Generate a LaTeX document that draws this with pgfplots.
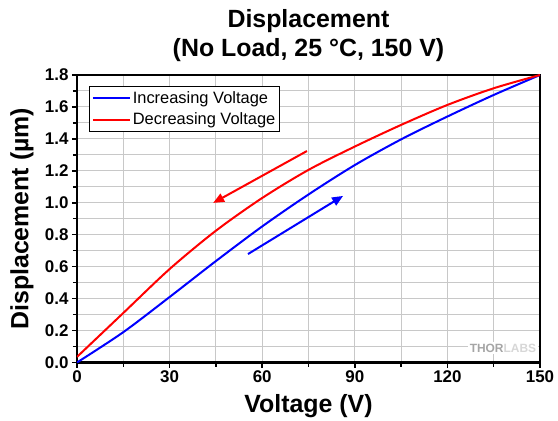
\documentclass[border=0pt]{standalone}
\usepackage{fontspec}
\setmainfont{Liberation Sans}
\usepackage{pgfplots}
\pgfplotsset{compat=1.18}
\usetikzlibrary{arrows.meta}
\definecolor{gridgray}{RGB}{200,200,200}
\definecolor{thorgray}{RGB}{165,165,165}
\definecolor{thorlight}{RGB}{215,215,215}

\begin{document}
\begin{tikzpicture}
\useasboundingbox (-77bp,-58.5bp) rectangle (481bp,362.5bp);
\begin{axis}[
  name=ax, at={(0,0)}, anchor=south west,
  scale only axis, width=463bp, height=287.5bp,
  xmin=0, xmax=150, ymin=0, ymax=1.8,
  xtick={0,30,60,90,120,150}, minor xtick={15,45,75,105,135},
  ytick={0,0.2,0.4,0.6,0.8,1.0,1.2,1.4,1.6,1.8},
  minor ytick={0.1,0.3,0.5,0.7,0.9,1.1,1.3,1.5,1.7},
  grid=both, grid style={gridgray, line width=1bp},
  minor grid style={gridgray, line width=1bp},
  axis line style={line width=2.8bp},
  tick style={black, line width=1.5bp},
  major tick length=5bp, minor tick length=4bp,
  tick align=outside, tick pos=left,
  tick label style={font=\bfseries\fontsize{17}{18}\selectfont},
  /pgf/number format/assume math mode=true,
  yticklabel style={/pgf/number format/.cd, fixed, fixed zerofill, precision=1},
  label style={font=\bfseries\fontsize{25}{25}\selectfont},
  xlabel={Voltage (V)},
  xlabel style={at={(axis description cs:0.5,-0.1746)}, anchor=base},
  ylabel={Displacement (µm)},
  ylabel style={at={(axis description cs:-0.119,0.5)}, anchor=center},
  legend style={at={(rel axis cs:0.0266,0.963)}, anchor=north west,
    draw=black, line width=1bp, font=\fontsize{16.5}{18}\selectfont,
    row sep=4bp, inner xsep=2bp, inner ysep=3.5bp, cells={anchor=west}},
  legend image code/.code={\draw[#1] (0bp,0bp) -- (37bp,0bp);},
]
\addplot[blue, line width=2bp, smooth] coordinates {
  (0,0) (15,0.19) (30,0.41) (45,0.635) (60,0.852) (75,1.052)
  (90,1.236) (105,1.397) (120,1.54) (135,1.675) (150,1.8)
};
\addlegendentry{Increasing Voltage}
\addplot[red, line width=2bp, smooth] coordinates {
  (0,0.035) (15,0.31) (30,0.585) (45,0.825) (60,1.03) (75,1.206)
  (90,1.352) (105,1.4875) (120,1.6125) (135,1.717) (150,1.8)
};
\addlegendentry{Decreasing Voltage}
% direction arrows
\addplot[red, line width=2bp, forget plot, -{Triangle[length=11bp,width=9bp]}]
  coordinates {(74.5,1.324) (44.1,0.999)};
\addplot[blue, line width=2bp, forget plot, -{Triangle[length=11bp,width=9bp]}]
  coordinates {(55.4,0.679) (86.2,1.043)};
\node[fill=white, inner sep=1.5bp, font=\bfseries\fontsize{12}{12}\selectfont]
  at (axis cs:138,0.091) {\textcolor{thorgray}{THOR}\textcolor{thorlight}{LABS}};
\end{axis}
\node[anchor=base, font=\bfseries\fontsize{25}{25}\selectfont] at ([yshift=47bp]ax.north) {Displacement};
\node[anchor=base, font=\bfseries\fontsize{25}{25}\selectfont] at ([yshift=18bp]ax.north) {(No Load, 25 °C, 150 V)};
\end{tikzpicture}
\end{document}
